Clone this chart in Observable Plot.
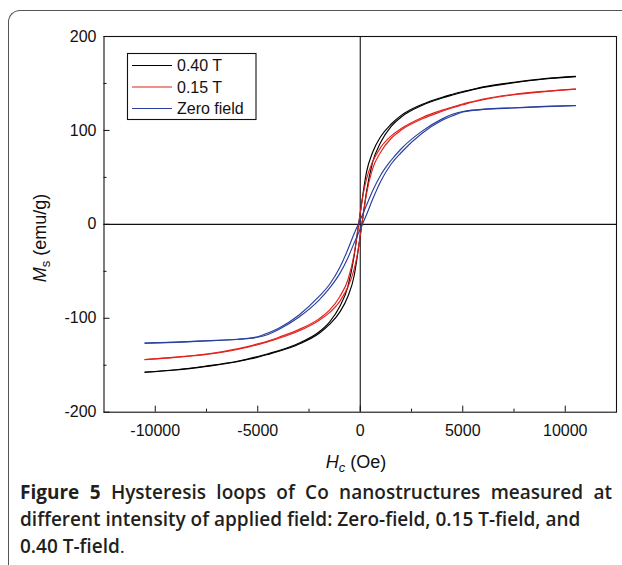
<!DOCTYPE html>
<html><head><meta charset="utf-8">
<script src="https://cdn.jsdelivr.net/npm/d3@7"></script>
<script src="https://cdn.jsdelivr.net/npm/@observablehq/plot@0.6"></script>
<style>
body{margin:0;background:#fff;}
#wrap{position:relative;width:622px;height:565px;overflow:hidden;background:#fff;}
#border{position:absolute;left:8px;top:10px;width:700px;height:700px;border-top:1px solid #555;border-left:1px solid #555;border-top-left-radius:12px;box-sizing:border-box;}
#chart{position:absolute;left:0;top:0;}
#caption{position:absolute;left:20px;top:479px;width:592px;font-family:"Open Sans",sans-serif;font-size:19px;line-height:27px;color:#231f20;font-weight:600;}
#caption .l1{text-align:justify;text-align-last:justify;white-space:nowrap;}
#caption b{font-weight:700;}
</style></head>
<body>
<div id="wrap"><div id="border"></div><div id="chart"></div><div id="caption"></div></div>
<script>
// ---- data ----
const fieldOe = [-10500,-9000,-7500,-6000,-5500,-5000,-4500,-4000,-3000,-2000,-1500,-1000,-600,-300,-150,0,150,300,600,1000,1500,2000,3000,4000,4500,5000,5500,6000,7500,9000,10500];
const seriesNames = ["0.40 T","0.15 T","Zero field"];
const seriesColors = ["#000000","#e3211c","#2a3f9f"];
// descending (upper) and ascending (lower) branches, Ms in emu/g
const ms040Down = [-157.3,-154.8,-150.8,-145.8,-143.5,-140.7,-137.7,-134.5,-126.5,-114.3,-104,-87.5,-66,-34,-11,12,35,55,76.5,93.5,106.6,116,127.6,135.4,138.5,141.4,143.9,146.3,151.2,155.1,157.5];
const ms040Up   = [-157.5,-155.1,-151.2,-146.3,-143.9,-141.4,-138.5,-135.4,-127.6,-116,-106.6,-93.5,-76.5,-55,-35,-12,11,34,66,87.5,104,114.3,126.5,134.5,137.7,140.7,143.5,145.8,150.8,154.8,157.3];
const ms015Down = [-143.9,-141.3,-138.0,-132.6,-130.2,-127.3,-124.3,-120.4,-112.1,-100.4,-91.4,-77,-59,-32,-11,12,33,48,66.5,82,94,102,113.5,121.6,124.9,128.2,130.8,133.3,138.5,141.7,144];
const ms015Up   = [-144,-141.7,-138.5,-133.3,-130.8,-128.2,-124.9,-121.6,-113.5,-102,-94,-82,-66.5,-48,-33,-12,11,32,59,77,91.4,100.4,112.1,120.4,124.3,127.3,130.2,132.6,138.0,141.3,143.9];
const msZeroDown = [-126.4,-125.4,-123.9,-122.3,-121.3,-119.6,-115.6,-110.8,-96.7,-76.5,-64,-46,-26.5,-10,-2.5,5,12.5,20,35.5,52.5,68,80.5,99,112.3,117.2,120.2,121.7,122.6,124.1,125.6,126.5];
const msZeroUp   = [-126.5,-125.6,-124.1,-122.6,-121.7,-120.2,-117.2,-112.3,-99,-80.5,-68,-52.5,-35.5,-20,-12.5,-5,2.5,10,26.5,46,64,76.5,96.7,110.8,115.6,119.6,121.3,122.3,123.9,125.4,126.4];
const xTicks = [-10000,-5000,0,5000,10000];
const xMinorTicks = [-7500,-2500,2500,7500];
const yTicks = [-200,-100,0,100,200];
const yMinorTicks = [-150,-50,50,150];
const xDomain = [-12500,12500];
const yDomain = [-200,200];
const xTitle = ["H","c"," (Oe)"];
const yTitle = ["M","s"," (emu/g)"];
const captionLines = [
  ["Figure 5"," Hysteresis loops of Co nanostructures measured at"],
  ["","different intensity of applied field: Zero-field, 0.15 T-field, and"],
  ["","0.40 T-field"]
];

// ---- build table ----
const branches = [
  [seriesNames[0], "down", ms040Down], [seriesNames[0], "up", ms040Up],
  [seriesNames[1], "down", ms015Down], [seriesNames[1], "up", ms015Up],
  [seriesNames[2], "down", msZeroDown], [seriesNames[2], "up", msZeroUp]
];
const rows = [];
for (const [s, b, arr] of branches) arr.forEach((m, i) => rows.push({series: s, key: s + b, H: fieldOe[i], M: m}));

const W = 622, Hh = 482, mL = 103.5, mR = 6, mT = 36, mB = 70.3;
const innerW = W - mL - mR, innerH = Hh - mT - mB;
const font = "'Liberation Sans', Arial, sans-serif";
const fmt = d => String(d);

const plot = Plot.plot({
  width: W, height: Hh,
  marginLeft: mL, marginRight: mR, marginTop: mT, marginBottom: mB,
  x: {domain: xDomain},
  y: {domain: yDomain},
  color: {domain: seriesNames, range: seriesColors},
  style: {fontFamily: font, fontSize: "16px", color: "#000", background: "transparent"},
  marks: [
    Plot.ruleX([0], {stroke: "#111", strokeWidth: 1.1}),
    Plot.ruleY([0], {stroke: "#111", strokeWidth: 1.1}),
    Plot.line(rows, {x: "H", y: "M", z: "key", stroke: "series", strokeWidth: 1.15, curve: "monotone-x"}),
    Plot.tickX(xTicks, {x: d => d, insetTop: innerH - 6, stroke: "#111"}),
    Plot.tickX(xMinorTicks, {x: d => d, insetTop: innerH - 3, stroke: "#111"}),
    Plot.tickY(yTicks, {y: d => d, insetRight: innerW - 6, stroke: "#111"}),
    Plot.tickY(yMinorTicks, {y: d => d, insetRight: innerW - 3, stroke: "#111"}),
    Plot.axisX(xTicks, {tickSize: 0, tickPadding: 12, label: null, fontSize: 16, fill: "#111", tickFormat: fmt}),
    Plot.axisY(yTicks, {tickSize: 0, tickPadding: 7.5, label: null, fontSize: 16, fill: "#111", tickFormat: fmt}),
    Plot.frame({stroke: "#111", strokeWidth: 1.1})
  ]
});
document.getElementById("chart").appendChild(plot);

const svg = d3.select(plot);
// axis titles
const xt = svg.append("text").attr("x", 356).attr("y", 468).attr("text-anchor", "middle")
  .attr("font-family", font).attr("font-size", 18).attr("fill", "#111");
xt.append("tspan").attr("font-style", "italic").text(xTitle[0]);
xt.append("tspan").attr("font-size", 13).attr("font-style", "italic").attr("dy", 4).text(xTitle[1]);
xt.append("tspan").attr("dy", -4).text(xTitle[2]);

const yt = svg.append("text").attr("transform", "translate(46,238) rotate(-90)").attr("text-anchor", "middle")
  .attr("font-family", font).attr("font-size", 18).attr("fill", "#111");
yt.append("tspan").attr("font-style", "italic").text(yTitle[0]);
yt.append("tspan").attr("font-size", 13).attr("dy", 4).text(yTitle[1]);
yt.append("tspan").attr("dy", -4).text(yTitle[2]);

// legend
const lg = svg.append("g").attr("text-anchor", "start");
lg.append("rect").attr("x", 127.5).attr("y", 53.5).attr("width", 128.5).attr("height", 66)
  .attr("fill", "#fff").attr("stroke", "#111").attr("stroke-width", 1.1);
seriesNames.forEach((s, i) => {
  const cy = 65.5 + i * 21.5;
  lg.append("line").attr("x1", 132).attr("x2", 172).attr("y1", cy).attr("y2", cy)
    .attr("stroke", seriesColors[i]).attr("stroke-width", 1.1);
  lg.append("text").attr("x", 177).attr("y", cy).attr("dy", "0.35em").attr("text-anchor", "start")
    .attr("font-family", font).attr("font-size", 16).attr("fill", "#111").text(s);
});

// caption
const cap = document.getElementById("caption");
captionLines.forEach((ln, i) => {
  const d = document.createElement("div");
  if (i === 0) d.className = "l1";
  if (ln[0]) { const b = document.createElement("b"); b.textContent = ln[0]; d.appendChild(b); }
  d.appendChild(document.createTextNode(ln[1]));
  if (i === captionLines.length - 1) { const p = document.createElement("span"); p.style.fontWeight = "400"; p.textContent = "."; d.appendChild(p); }
  cap.appendChild(d);
});
</script>
</body></html>
